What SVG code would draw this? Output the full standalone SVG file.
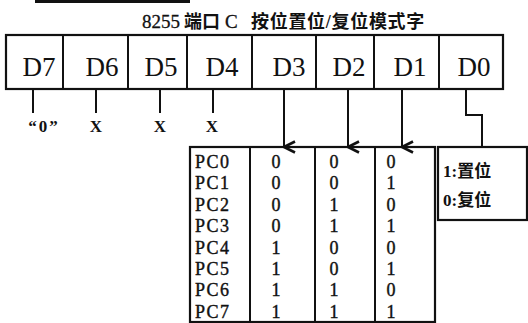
<svg xmlns="http://www.w3.org/2000/svg" width="528" height="323" viewBox="0 0 528 323">
<defs>
<style>
.bx{fill:#fff;stroke:#111;stroke-width:2.2}
.ln{fill:none;stroke:#111;stroke-width:2}
.reg{font-family:"Liberation Serif","Noto Sans CJK SC",serif;font-size:27px;fill:#111;text-anchor:middle}
.cj{font-family:"Liberation Serif","Noto Sans CJK SC",serif;font-weight:bold;fill:#111}
.tb{font-family:"Liberation Serif",serif;font-size:18px;fill:#111;stroke:#111;stroke-width:0.4}
.dg{font-family:"Liberation Serif",serif;font-size:18px;fill:#111;stroke:#111;stroke-width:0.4;text-anchor:middle}
.sm{font-family:"Liberation Serif",serif;font-size:17px;font-weight:bold;fill:#111;text-anchor:middle}
</style>
<marker id="ah" viewBox="0 0 14 14" refX="7" refY="13" markerWidth="14" markerHeight="14" markerUnits="userSpaceOnUse" orient="auto-start-reverse">
<path d="M1.5,2 L7,13 L12.5,2" fill="none" stroke="#111" stroke-width="2.6"/>
</marker>
</defs>
<rect width="528" height="323" fill="#fff"/>
<line x1="35" y1="1.5" x2="190" y2="1.5" stroke="#111" stroke-width="3"/>
<text class="cj" y="28" font-size="18"><tspan x="142" font-size="19" font-weight="normal" stroke="#111" stroke-width="0.3">8255</tspan><tspan x="184">端口</tspan><tspan x="225" font-size="19" font-weight="normal" stroke="#111" stroke-width="0.3">C</tspan><tspan x="251" letter-spacing="0.7">按位置位/复位模式字</tspan></text>

<g id="register">
<rect class="bx" x="6" y="35" width="497" height="54"/>
<line class="ln" x1="63" y1="35" x2="63" y2="89"/>
<line class="ln" x1="128" y1="35" x2="128" y2="89"/>
<line class="ln" x1="187" y1="35" x2="187" y2="89"/>
<line class="ln" x1="252" y1="35" x2="252" y2="89"/>
<line class="ln" x1="316" y1="35" x2="316" y2="89"/>
<line class="ln" x1="374" y1="35" x2="374" y2="89"/>
<line class="ln" x1="439" y1="35" x2="439" y2="89"/>
<text class="reg" x="39" y="76">D7</text>
<text class="reg" x="102" y="76">D6</text>
<text class="reg" x="161" y="76">D5</text>
<text class="reg" x="222" y="76">D4</text>
<text class="reg" x="289" y="76">D3</text>
<text class="reg" x="349" y="76">D2</text>
<text class="reg" x="410" y="76">D1</text>
<text class="reg" x="474" y="76">D0</text>
</g>

<g id="fixed-bits">
<text class="sm" x="44" y="132" letter-spacing="2">“0”</text>
<text class="sm" x="96" y="132">X</text>
<text class="sm" x="160" y="132">X</text>
<text class="sm" x="212" y="132">X</text>
</g>

<g id="table">
<rect class="bx" x="190" y="147" width="245" height="175"/>
<line class="ln" x1="250" y1="147" x2="250" y2="322" stroke-width="3"/>
<line class="ln" x1="315" y1="147" x2="315" y2="322" stroke-width="3"/>
<line class="ln" x1="375" y1="147" x2="375" y2="322" stroke-width="3"/>
<g class="tb">
<text x="195" y="168" letter-spacing="1.5">PC0</text>
<text x="195" y="189.4" letter-spacing="1.5">PC1</text>
<text x="195" y="210.8" letter-spacing="1.5">PC2</text>
<text x="195" y="232.2" letter-spacing="1.5">PC3</text>
<text x="195" y="253.6" letter-spacing="1.5">PC4</text>
<text x="195" y="275" letter-spacing="1.5">PC5</text>
<text x="195" y="296.4" letter-spacing="1.5">PC6</text>
<text x="195" y="317.8" letter-spacing="1.5">PC7</text>
</g>
<g class="dg">
<text x="276" y="168">0</text><text x="334" y="168">0</text><text x="391" y="168">0</text>
<text x="276" y="189.4">0</text><text x="334" y="189.4">0</text><text x="391" y="189.4">1</text>
<text x="276" y="210.8">0</text><text x="334" y="210.8">1</text><text x="391" y="210.8">0</text>
<text x="276" y="232.2">0</text><text x="334" y="232.2">1</text><text x="391" y="232.2">1</text>
<text x="276" y="253.6">1</text><text x="334" y="253.6">0</text><text x="391" y="253.6">0</text>
<text x="276" y="275">1</text><text x="334" y="275">0</text><text x="391" y="275">1</text>
<text x="276" y="296.4">1</text><text x="334" y="296.4">1</text><text x="391" y="296.4">0</text>
<text x="276" y="317.8">1</text><text x="334" y="317.8">1</text><text x="391" y="317.8">1</text>
</g>
</g>

<g id="mode-box">
<rect class="bx" x="438" y="147" width="89" height="73"/>
<text class="cj" x="443" y="177" font-size="17">1:置位</text>
<text class="cj" x="443" y="206" font-size="17">0:复位</text>
</g>

<g id="connectors">
<line class="ln" x1="33" y1="89" x2="33" y2="113"/>
<line class="ln" x1="96" y1="89" x2="96" y2="113"/>
<line class="ln" x1="160" y1="89" x2="160" y2="113"/>
<line class="ln" x1="213" y1="89" x2="213" y2="113"/>
<line class="ln" x1="284" y1="89" x2="284" y2="147" marker-end="url(#ah)"/>
<line class="ln" x1="348" y1="89" x2="348" y2="147" marker-end="url(#ah)"/>
<line class="ln" x1="402" y1="89" x2="402" y2="147" marker-end="url(#ah)"/>
<polyline class="ln" points="466,89 466,115 482,115 482,147"/>
</g>
</svg>
